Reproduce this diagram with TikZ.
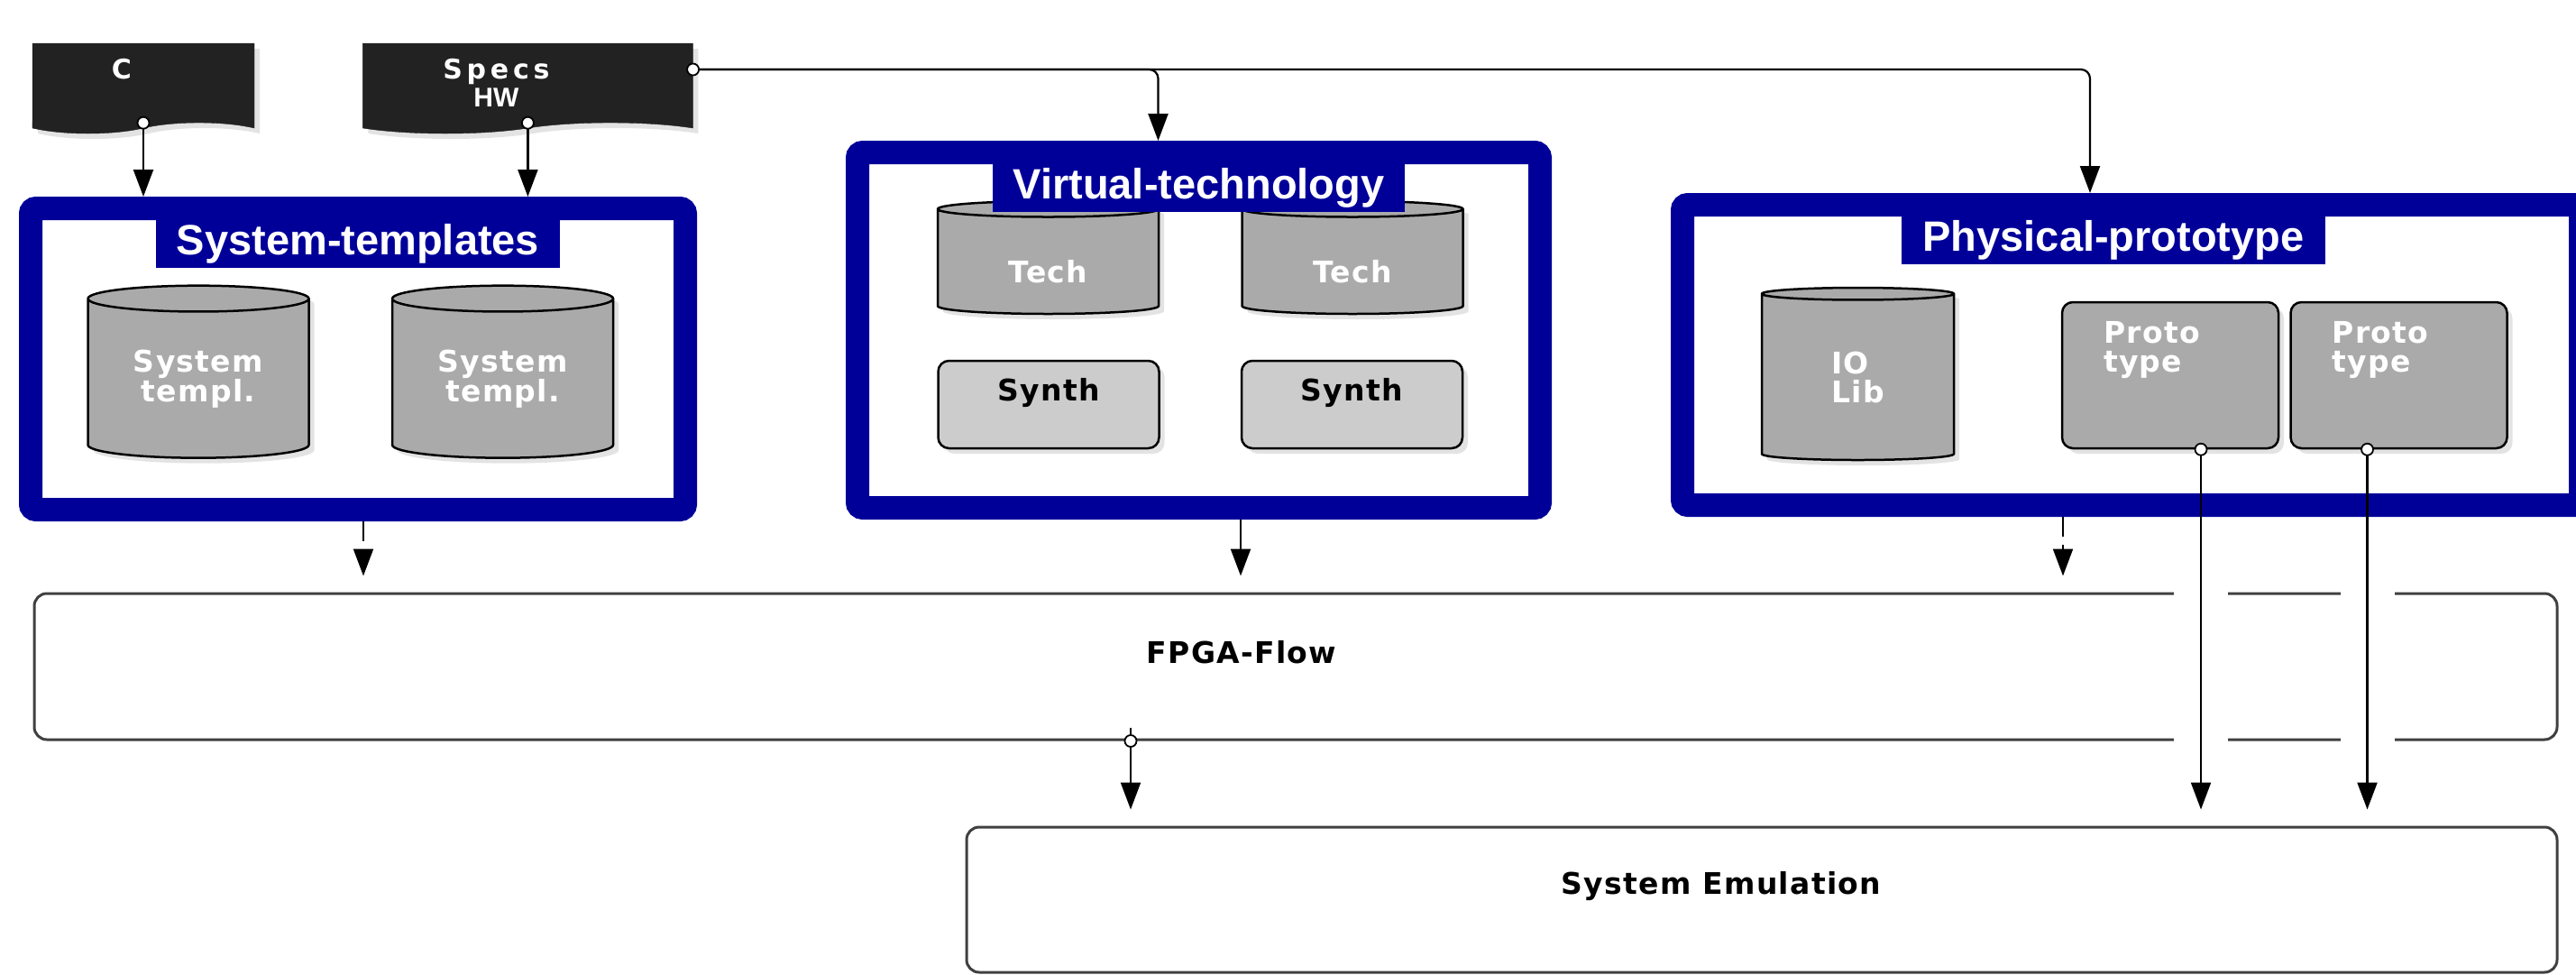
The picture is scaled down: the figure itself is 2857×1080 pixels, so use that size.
\documentclass[tikz,border=0pt]{standalone}
\usepackage{fontspec}
\usetikzlibrary{arrows.meta,positioning,shapes.geometric,shapes.symbols,shadows,calc}
\newfontfamily\dejafont[LetterSpace=4]{DejaVu Sans}
\newfontfamily\specfont[LetterSpace=16]{DejaVu Sans}
\newfontfamily\liberfont{Liberation Sans}
\definecolor{grpblue}{RGB}{0,0,153}
\definecolor{docblack}{RGB}{34,34,34}
\definecolor{cylgray}{RGB}{170,170,170}
\definecolor{synthgray}{RGB}{204,204,204}
\definecolor{rimgray}{RGB}{64,64,64}

\begin{document}
\begin{tikzpicture}[x=1pt, y=-1pt,
    softshadow/.style={drop shadow={opacity=0.22, shadow xshift=6pt, shadow yshift=-6pt}},
    grp/.style={draw=grpblue, line width=26pt, rounded corners=6pt,
                outer sep=13pt, inner sep=0pt},
    grptitle/.style={fill=grpblue, text=white, minimum height=53pt,
                     inner xsep=23pt, inner ysep=0pt,
                     font=\liberfont\bfseries\fontsize{47}{50}\selectfont},
    docbox/.style={tape, tape bend top=none, tape bend bottom=in and out,
                   tape bend height=12pt, fill=docblack, draw=docblack,
                   minimum height=100pt, softshadow},
    doctext/.style={text=white, align=center,
                    font=\bfseries\fontsize{30}{31}\selectfont},
    cyl/.style={cylinder, shape border rotate=90, aspect=0.2, draw=black,
                line width=2.5pt, fill=cylgray, minimum width=245pt,
                minimum height=191pt, inner sep=0pt, text=white, align=center,
                font=\dejafont\bfseries\fontsize{33}{32}\selectfont, softshadow},
    synthbox/.style={rounded corners=12pt, draw=black, line width=2.5pt,
                     fill=synthgray, minimum width=245pt, minimum height=97pt,
                     text depth=33pt,
                     font=\dejafont\bfseries\fontsize{33}{33}\selectfont, softshadow},
    protobox/.style={rounded corners=12pt, draw=black, line width=2.5pt,
                     fill=cylgray, minimum height=162pt, text width=148pt,
                     inner xsep=46pt, align=left, text=white, text depth=95pt,
                     font=\dejafont\bfseries\fontsize{33}{32}\selectfont, softshadow},
    flowbox/.style={draw=rimgray, line width=3pt, rounded corners=14pt, inner sep=0pt},
    boxtext/.style={font=\dejafont\bfseries\fontsize{33}{33}\selectfont},
    port/.style={circle, draw=black, fill=white, line width=1.8pt,
                 inner sep=0pt, minimum size=13pt},
    dashline/.style={dash pattern=on 22pt off 9pt},
    flowarr/.style={-{Triangle[length=30pt, width=22pt]}, line width=2.2pt}
  ]
    \useasboundingbox (0,0) rectangle (2857,1080);
    \clip (0,0) rectangle (2857,1080);
    \fill[white] (0,0) rectangle (2857,1080);

    % flow and emulation
    \node[flowbox, minimum width=2798pt, minimum height=162pt,
          label={[boxtext, xshift=-60pt, yshift=16pt]center:FPGA-Flow}] (flow) at (1437,739) {};
    \node[flowbox, minimum width=1764pt, minimum height=161pt,
          label={[boxtext, xshift=-45pt, yshift=15pt]center:System Emulation}] (emul) at (1954,997.5) {};

    % groups
    \node[grp, minimum width=726pt, minimum height=334pt] (sysgrp) at (397,398) {};
    \node[grp, minimum width=757pt, minimum height=394pt] (virt) at (1329.5,366) {};
    \node[grp, minimum width=996pt, minimum height=333pt] (phys) at (2364,393.5) {};

    \node[cyl] (sys1) at (220,420) {System\\templ.};
    \node[cyl, right=90pt of sys1] (sys2) {System\\templ.};
    \node[cyl, minimum height=125pt, text height=47pt] (tech1) at (1162.5,290.5) {Tech};
    \node[cyl, minimum height=125pt, text height=47pt, right=90pt of tech1] (tech2) {Tech};
    \node[synthbox] (synth1) at (1163,448.5) {Synth};
    \node[synthbox, right=89pt of synth1] (synth2) {Synth};
    \node[cyl, minimum width=213pt, aspect=0.23, align=left] (iolib) at (2060.5,418.5) {IO\\Lib};
    \node[protobox] (proto1) at (2407,416) {Proto\\type};
    \node[protobox, right=11pt of proto1] (proto2) {Proto\\type};

    \node[grptitle, below=26pt of sysgrp.north] (systitle) {System-templates};
    \node[grptitle, below=26pt of virt.north] (virttitle) {Virtual-technology};
    \node[grptitle, below=26pt of phys.north, xshift=-20pt] (phystitle) {Physical-prototype};

    % sources
    \node[docbox, minimum width=246pt,
          label={[doctext, xshift=-24pt, yshift=15pt]center:\specfont C}] (c) at (159,92) {};
    \node[docbox, minimum width=366pt, right=120pt of c,
          label={[doctext, xshift=-35pt]center:{{\specfont Specs}\\{\liberfont HW}}}] (specs) {};

    \coordinate (cpt) at (c.south);
    \coordinate (sbpt) at (specs.south);
    \coordinate (srpt) at ([yshift=15pt]specs.east);
    \coordinate (fpt) at ([xshift=-183pt]flow.south);
    \coordinate (p1pt) at ([xshift=34pt]proto1.south);
    \coordinate (p2pt) at ([xshift=-35pt]proto2.south);

    % connectors
    \draw[flowarr] (cpt) -- (cpt |- sysgrp.north);
    \draw[flowarr] (sbpt) -- (sbpt |- sysgrp.north);
    \draw[flowarr, rounded corners=10pt] (srpt) -| ([xshift=-45pt]virt.north);
    \draw[flowarr, rounded corners=10pt] (srpt) -| ([xshift=-46pt]phys.north);
    \foreach \g/\dx/\ls in {sysgrp/6/dashline, virt/46.5/solid, phys/-76/dashline}
      \draw[flowarr, \ls, shorten >=18pt] ([xshift=\dx pt]\g.south) -- ([xshift=\dx pt]\g.south |- flow.north);
    \draw[flowarr, shorten >=18pt] ([yshift=15pt]fpt) -- (fpt |- emul.north);
    \foreach \p in {p1pt,p2pt}
      \foreach \e in {north,south}
        \fill[white] ($(\p |- flow.\e)+(-30,-5)$) rectangle ($(\p |- flow.\e)+(30,5)$);
    \foreach \p in {p1pt,p2pt}
      \draw[flowarr, shorten >=18pt] (\p) -- (\p |- emul.north);

    \foreach \p in {cpt,sbpt,srpt,fpt,p1pt,p2pt}
      \node[port] (dot\p) at (\p) {};
\end{tikzpicture}
\end{document}
